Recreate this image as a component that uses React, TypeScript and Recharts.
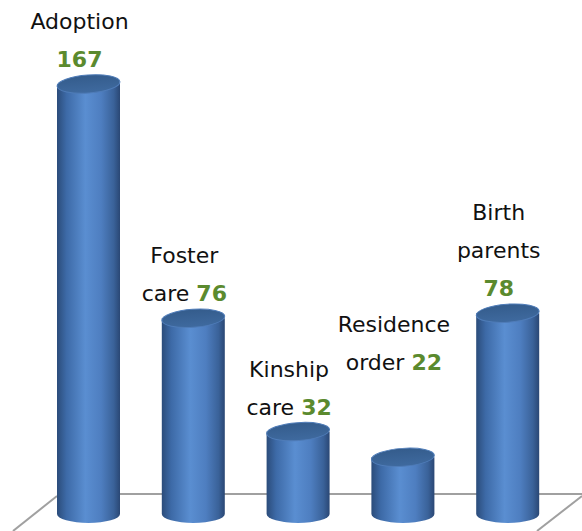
import React from 'react';
import { BarChart, Bar, XAxis, YAxis } from 'recharts';

const categories = ['Adoption', 'Foster care', 'Kinship care', 'Residence order', 'Birth parents'];
const values = [167, 76, 32, 22, 78];
const labelLines = [['Adoption'], ['Foster', 'care'], ['Kinship', 'care'], ['Residence', 'order'], ['Birth', 'parents']];
const valueOnOwnLine = [true, false, false, false, true];

const data = categories.map((c, i) => ({ name: c, value: values[i], lines: labelLines[i], ownLine: valueOnOwnLine[i] }));

// extra upward shift of a label block (style only)
const labelLift: Record<string, number> = { 'Residence order': 70 };

const W = 582;
const H = 531;
const RY = 9;
const LINE = 38;

const Cylinder = (props: any) => {
  const { x, y, width, height, payload } = props;
  const cx = x + width / 2;
  const rx = width / 2;
  const bottom = y + height;
  const body = `M ${x} ${y} L ${x} ${bottom} A ${rx} ${RY} 0 0 0 ${x + width} ${bottom} L ${x + width} ${y} Z`;
  const lines: string[] = payload.lines.slice();
  const texts: { t: string; num?: string }[] = lines.map((t: string) => ({ t }));
  if (payload.ownLine) texts.push({ t: '', num: String(payload.value) });
  else texts[texts.length - 1].num = String(payload.value);
  const lift = labelLift[payload.name] || 0;
  const lastBase = y - 17 - lift;
  const lx = cx - 9;
  return (
    <g>
      <path d={body} fill="url(#cylGrad)" />
      <ellipse cx={cx} cy={y} rx={rx} ry={RY} fill="url(#topGrad)" stroke="#4f7cb8" strokeWidth={1} transform={`rotate(-4 ${cx} ${y})`} />
      {texts.map((ln, i) => (
        <text
          key={i}
          x={lx}
          y={lastBase - (texts.length - 1 - i) * LINE}
          textAnchor="middle"
          fontFamily="DejaVu Sans"
          fontSize={22}
          fill="#111"
        >
          {ln.t}
          {ln.t && ln.num ? ' ' : ''}
          {ln.num ? (
            <tspan fill="#5b8a2e" fontWeight="bold">{ln.num}</tspan>
          ) : null}
        </text>
      ))}
    </g>
  );
};

export default function App() {
  return (
    <div style={{ position: 'absolute', left: 0, top: 0, width: W, height: H, background: '#fff' }}>
      <svg width={W} height={H} style={{ position: 'absolute', left: 0, top: 0 }}>
        <g stroke="#a0a0a0" strokeWidth={2} fill="none">
          <line x1={57} y1={494} x2={582} y2={494} />
          <line x1={57} y1={496} x2={13} y2={531} />
          <line x1={582} y1={496} x2={537} y2={531} />
        </g>
      </svg>
      <div style={{ position: 'absolute', left: 0, top: 0 }}>
        <BarChart width={W} height={H} data={data} margin={{ top: 84, right: 22, bottom: 17, left: 36 }}>
          <defs>
            <linearGradient id="cylGrad" x1="0" y1="0" x2="1" y2="0">
              <stop offset="0%" stopColor="#2b4c7a" />
              <stop offset="15%" stopColor="#3d6aa7" />
              <stop offset="45%" stopColor="#5a8ed1" />
              <stop offset="70%" stopColor="#4e7ec0" />
              <stop offset="90%" stopColor="#3a6299" />
              <stop offset="100%" stopColor="#2a4774" />
            </linearGradient>
            <linearGradient id="topGrad" x1="0" y1="0" x2="0" y2="1">
              <stop offset="0%" stopColor="#345c8c" />
              <stop offset="100%" stopColor="#3f6a9f" />
            </linearGradient>
          </defs>
          <XAxis dataKey="name" hide />
          <YAxis hide domain={[0, 167]} />
          <Bar dataKey="value" barSize={63} shape={<Cylinder />} isAnimationActive={false} />
        </BarChart>
      </div>
    </div>
  );
}
